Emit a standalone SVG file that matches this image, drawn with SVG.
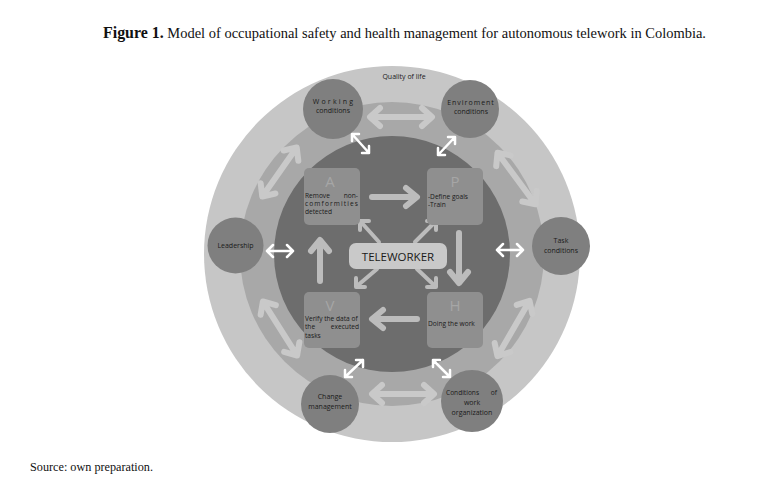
<svg xmlns="http://www.w3.org/2000/svg" width="759" height="497" viewBox="0 0 759 497">
<style>
.ttl{font-family:"Liberation Serif",serif;fill:#111}
.lbl{font-family:"Open Sans","DejaVu Sans",sans-serif;font-size:7px;fill:#1a1a1a;text-anchor:middle}
.bt{font-family:"Open Sans","DejaVu Sans",sans-serif;font-size:6.6px;fill:#1a1a1a}
.end{text-anchor:end}
.node{fill:#7f7f7f}
.box{fill:#8f8f8f}
.let{font-family:"Open Sans","DejaVu Sans",sans-serif;font-size:15px;fill:#a6a6a6;text-anchor:middle}
.big{fill:none;stroke:#c9c9c9;stroke-width:6;stroke-linecap:round;stroke-linejoin:round}
.inn{fill:none;stroke:#bcbcbc;stroke-width:6;stroke-linecap:round;stroke-linejoin:round}
.thin{fill:none;stroke:#bcbcbc;stroke-width:4;stroke-linecap:round;stroke-linejoin:round}
.wht{fill:none;stroke:#ffffff;stroke-width:2.5;stroke-linecap:round;stroke-linejoin:round}
</style>
<rect width="759" height="497" fill="#ffffff"/>
<text class="ttl" x="103" y="38" font-size="15" textLength="603" lengthAdjust="spacingAndGlyphs"><tspan font-size="16.5" font-weight="bold">Figure 1.</tspan> Model of occupational safety and health management for autonomous telework in Colombia.</text>
<text class="ttl" x="30" y="471" font-size="12" textLength="123" lengthAdjust="spacingAndGlyphs">Source: own preparation.</text>

<g id="rings">
<circle cx="392" cy="254" r="188" fill="#c6c6c6"/>
<circle cx="392" cy="254" r="152" fill="#a8a8a8"/>
<circle cx="392" cy="254" r="118" fill="#6d6d6d"/>
<text class="lbl" x="404" y="79">Quality of life</text>
</g>

<g id="connectors">
<g transform="translate(401,117)"><path class="big" d="M-27,0 H27 M-21,-9 L-31,0 L-21,9 M21,-9 L31,0 L21,9"/></g>
<g transform="translate(403,394)"><path class="big" d="M-27,0 H27 M-21,-9 L-31,0 L-21,9 M21,-9 L31,0 L21,9"/></g>
<g transform="translate(279.5,172) rotate(-55)"><path class="big" d="M-26,0 H26 M-20,-9 L-30,0 L-20,9 M20,-9 L30,0 L20,9"/></g>
<g transform="translate(516.5,178.5) rotate(53.6)"><path class="big" d="M-28,0 H28 M-22,-9 L-32,0 L-22,9 M22,-9 L32,0 L22,9"/></g>
<g transform="translate(280,328.5) rotate(57.7)"><path class="big" d="M-28,0 H28 M-22,-9 L-32,0 L-22,9 M22,-9 L32,0 L22,9"/></g>
<g transform="translate(513.5,328.5) rotate(-59.9)"><path class="big" d="M-28,0 H28 M-22,-9 L-32,0 L-22,9 M22,-9 L32,0 L22,9"/></g>
<path class="wht" d="M352,134 L369,153 M359,134 L352,134 L352,141 M362,153 L369,153 L369,146"/>
<path class="wht" d="M455,137 L438,155 M448,137 L455,137 L455,144 M445,155 L438,155 L438,148"/>
<path class="wht" d="M267,251 H293 M273,245 L267,251 L273,257 M287,245 L293,251 L287,257"/>
<path class="wht" d="M497,250 H523 M503,244 L497,250 L503,256 M517,244 L523,250 L517,256"/>
<path class="wht" d="M363,360 L345,377 M356,360 L363,360 L363,367 M352,377 L345,377 L345,370"/>
<path class="wht" d="M433,360 L450,377 M440,360 L433,360 L433,367 M443,377 L450,377 L450,370"/>
<path class="inn" d="M372,197 H416 M406,188 L417,197 L406,206"/>
<path class="inn" d="M459,233 V282 M450,272 L459,283 L468,272"/>
<path class="inn" d="M417,319 H373 M383,310 L372,319 L383,328"/>
<path class="inn" d="M320,281 V241 M311,251 L320,240 L329,251"/>
<path class="thin" d="M379,242 L361,222 M369,221 L360,221 L360,230"/>
<path class="thin" d="M415,242 L435,222 M427,221 L436,221 L436,230"/>
<path class="thin" d="M377,269 L357,286 M365,287 L356,287 L356,278"/>
<path class="thin" d="M417,269 L435,286 M427,287 L436,287 L436,278"/>
</g>

<g id="working-conditions">
<circle class="node" cx="333" cy="109" r="30"/>
<text class="lbl" x="334" y="104" letter-spacing="2.2">Working</text>
<text class="lbl" x="333" y="113">conditions</text>
</g>
<g id="enviroment-conditions">
<circle class="node" cx="470" cy="109" r="29"/>
<text class="lbl" x="471" y="105" letter-spacing="1">Enviroment</text>
<text class="lbl" x="471" y="114">conditions</text>
</g>
<g id="leadership">
<circle class="node" cx="235.5" cy="245.5" r="28"/>
<text class="lbl" x="235.5" y="247.5">Leadership</text>
</g>
<g id="task-conditions">
<circle class="node" cx="561" cy="246" r="29"/>
<text class="lbl" x="561" y="243">Task</text>
<text class="lbl" x="561" y="253">conditions</text>
</g>
<g id="change-management">
<circle class="node" cx="330" cy="404" r="29"/>
<text class="lbl" x="330" y="399">Change</text>
<text class="lbl" x="330" y="409">management</text>
</g>
<g id="conditions-work-organization">
<circle class="node" cx="472" cy="401" r="31"/>
<text class="bt" x="446" y="395">Conditions</text>
<text class="bt end" x="497" y="395">of</text>
<text class="lbl" x="472" y="405">work</text>
<text class="lbl" x="472" y="415">organization</text>
</g>

<g id="box-A">
<rect class="box" x="304" y="168" width="56" height="57" rx="5"/>
<text class="let" x="330" y="187">A</text>
<text class="bt" x="305" y="198">Remove</text>
<text class="bt end" x="358" y="198">non-</text>
<text class="bt" x="305" y="206" textLength="53" lengthAdjust="spacing">comformities</text>
<text class="bt" x="305" y="214">detected</text>
</g>
<g id="box-P">
<rect class="box" x="427" y="168" width="56" height="57" rx="5"/>
<text class="let" x="455" y="187">P</text>
<text class="bt" x="428" y="199">-Define goals</text>
<text class="bt" x="428" y="207">-Train</text>
</g>
<g id="box-V">
<rect class="box" x="304" y="292" width="56" height="56" rx="5"/>
<text class="let" x="330" y="311">V</text>
<text class="bt" x="305" y="321">Verify the data of</text>
<text class="bt" x="305" y="329">the</text>
<text class="bt end" x="359" y="329">executed</text>
<text class="bt" x="305" y="338">tasks</text>
</g>
<g id="box-H">
<rect class="box" x="427" y="292" width="56" height="56" rx="5"/>
<text class="let" x="455" y="311">H</text>
<text class="bt" x="428" y="326">Doing the work</text>
</g>
<g id="teleworker">
<rect x="349" y="243" width="98" height="26" rx="7" fill="#c9c9c9"/>
<text x="398" y="261" font-family="'Open Sans','DejaVu Sans',sans-serif" font-size="11.5" fill="#1a1a1a" text-anchor="middle">TELEWORKER</text>
</g>
</svg>
